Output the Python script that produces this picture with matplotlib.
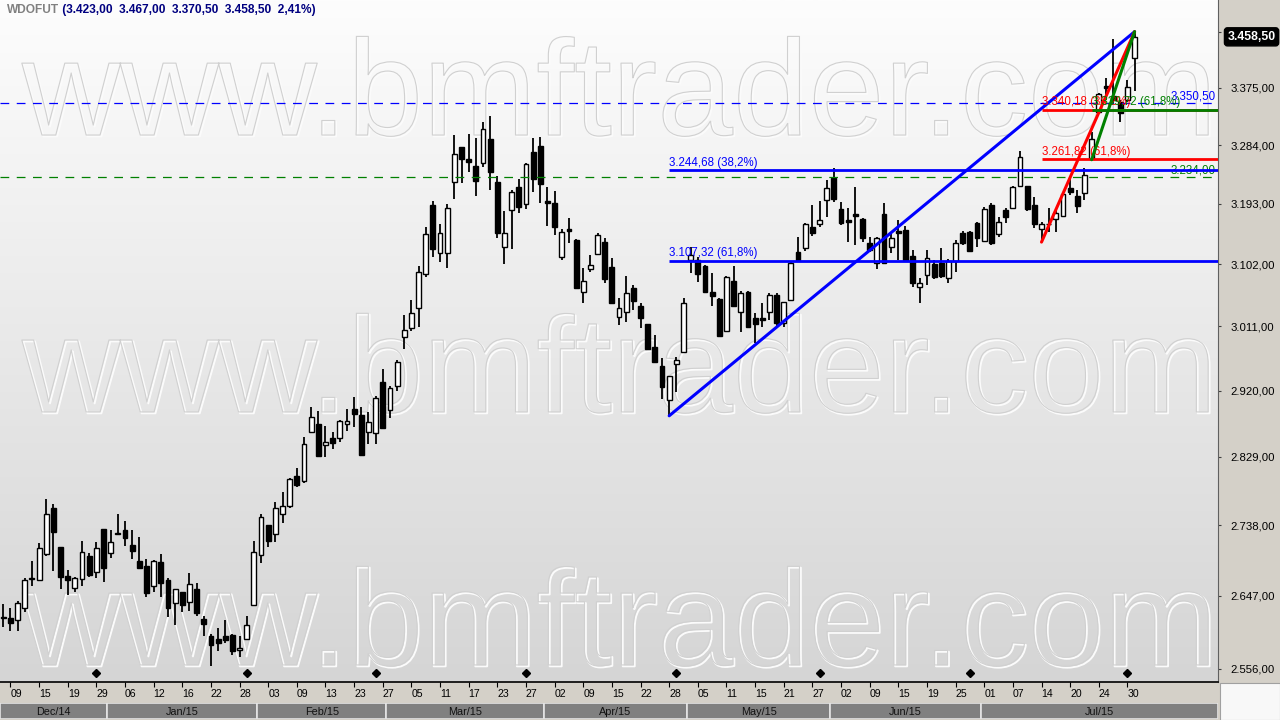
import numpy as np
import matplotlib
matplotlib.use("Agg")
import matplotlib.pyplot as plt
import matplotlib.transforms as mtransforms
from matplotlib import patheffects
from matplotlib.colors import LinearSegmentedColormap
from matplotlib.patches import Rectangle
from matplotlib.ticker import FixedLocator, NullLocator, FuncFormatter

plt.rcParams['font.family'] = ['Liberation Sans', 'DejaVu Sans']

# WDOFUT daily candles, Dec/14 .. Jul/15
opens = [2620, 2619, 2617, 2631, 2668, 2667, 2700, 2760, 2709, 2672,
         2657, 2668, 2698, 2677, 2733, 2702, 2727, 2731, 2712, 2692,
         2685, 2659, 2690, 2667, 2638, 2652, 2639, 2655, 2618, 2597,
         2593, 2596, 2598, 2579, 2593, 2635, 2699, 2738, 2726, 2752,
         2763, 2803, 2796, 2863, 2874, 2845, 2855, 2855, 2874, 2894,
         2886, 2863, 2862, 2932, 2893, 2927, 2996, 3009, 3038, 3088,
         3191, 3119, 3119, 3227, 3281, 3262, 3251, 3256, 3293, 3227,
         3127, 3184, 3219, 3193, 3273, 3283, 3198, 3194, 3112, 3154,
         3138, 3061, 3095, 3117, 3135, 3098, 3024, 3032, 3067, 3041,
         3014, 2981, 2955, 2907, 2957, 2974, 3108, 3108, 3100, 3061,
         3051, 3004, 3077, 3032, 3061, 3023, 3023, 3032, 3057, 3016,
         3050, 3120, 3126, 3157, 3162, 3199, 3233, 3185, 3168, 3177,
         3170, 3134, 3104, 3177, 3128, 3151, 3153, 3114, 3068, 3086,
         3103, 3104, 3082, 3107, 3149, 3150, 3164, 3136, 3191, 3147,
         3184, 3187, 3220, 3220, 3191, 3154, 3163, 3170, 3174, 3217,
         3205, 3209, 3262, 3337, 3378, 3362, 3353, 3356, 3423]
highs = [2637, 2631, 2640, 2669, 2692, 2715, 2772, 2766, 2709, 2680,
         2671, 2717, 2702, 2716, 2733, 2731, 2752, 2744, 2731, 2723,
         2694, 2693, 2701, 2669, 2655, 2652, 2676, 2663, 2622, 2599,
         2607, 2616, 2599, 2596, 2621, 2717, 2752, 2738, 2768, 2782,
         2800, 2814, 2856, 2897, 2891, 2871, 2863, 2879, 2894, 2911,
         2897, 2890, 2913, 2950, 2927, 2963, 3027, 3050, 3100, 3158,
         3197, 3162, 3193, 3300, 3281, 3301, 3295, 3320, 3330, 3236,
         3182, 3214, 3231, 3256, 3295, 3297, 3218, 3212, 3155, 3171,
         3139, 3097, 3116, 3149, 3141, 3111, 3053, 3085, 3072, 3045,
         3015, 2999, 2966, 2941, 2968, 3052, 3127, 3112, 3101, 3089,
         3052, 3084, 3100, 3062, 3062, 3030, 3045, 3059, 3059, 3047,
         3105, 3142, 3164, 3191, 3197, 3230, 3248, 3195, 3187, 3218,
         3171, 3142, 3142, 3194, 3149, 3168, 3160, 3123, 3082, 3123,
         3108, 3126, 3110, 3138, 3151, 3152, 3165, 3188, 3194, 3173,
         3187, 3220, 3274, 3221, 3204, 3165, 3187, 3187, 3210, 3233,
         3214, 3248, 3305, 3367, 3391, 3455, 3356, 3388, 3467]
lows = [2608, 2603, 2603, 2627, 2659, 2666, 2698, 2678, 2655, 2648,
        2652, 2659, 2671, 2669, 2664, 2695, 2725, 2711, 2694, 2682,
        2646, 2652, 2645, 2620, 2610, 2626, 2628, 2621, 2596, 2559,
        2578, 2588, 2573, 2571, 2592, 2634, 2689, 2710, 2716, 2741,
        2760, 2789, 2794, 2862, 2830, 2829, 2839, 2849, 2864, 2869,
        2831, 2846, 2846, 2867, 2882, 2920, 2979, 3005, 3010, 3083,
        3112, 3105, 3097, 3201, 3225, 3242, 3205, 3250, 3214, 3141,
        3102, 3124, 3179, 3185, 3211, 3194, 3160, 3145, 3108, 3133,
        3066, 3045, 3091, 3115, 3074, 3043, 3013, 3017, 3035, 3009,
        2977, 2959, 2908, 2885, 2918, 2973, 3089, 3076, 3060, 3041,
        2996, 3003, 3040, 3003, 3009, 2987, 3010, 3020, 3011, 3010,
        3048, 3105, 3121, 3144, 3157, 3173, 3196, 3161, 3135, 3130,
        3135, 3120, 3095, 3103, 3119, 3108, 3107, 3068, 3045, 3071,
        3080, 3082, 3074, 3091, 3130, 3120, 3127, 3135, 3130, 3143,
        3164, 3186, 3219, 3182, 3156, 3135, 3150, 3150, 3173, 3206,
        3179, 3199, 3261, 3335, 3356, 3351, 3321, 3353, 3370.5]
closes = [2619, 2613, 2638, 2667, 2669, 2708, 2753, 2729, 2671, 2667,
          2669, 2703, 2673, 2708, 2682, 2716, 2728, 2721, 2704, 2683,
          2651, 2691, 2663, 2632, 2655, 2635, 2662, 2625, 2612, 2585,
          2588, 2591, 2578, 2582, 2610, 2703, 2749, 2717, 2761, 2763,
          2799, 2791, 2846, 2883, 2830, 2849, 2848, 2878, 2878, 2887,
          2832, 2876, 2910, 2868, 2924, 2960, 3006, 3031, 3091, 3147,
          3124, 3149, 3187, 3270, 3262, 3258, 3228, 3309, 3242, 3149,
          3149, 3211, 3188, 3255, 3231, 3224, 3194, 3157, 3150, 3152,
          3067, 3077, 3101, 3146, 3080, 3045, 3038, 3060, 3048, 3023,
          2978, 2960, 2925, 2940, 2963, 3045, 3115, 3088, 3061, 3055,
          2997, 3083, 3041, 3060, 3010, 3014, 3021, 3056, 3016, 3047,
          3104, 3108, 3162, 3148, 3168, 3217, 3200, 3164, 3165, 3174,
          3141, 3123, 3141, 3104, 3141, 3148, 3108, 3074, 3074, 3111,
          3083, 3084, 3107, 3133, 3133, 3121, 3141, 3185, 3133, 3165,
          3173, 3219, 3266, 3185, 3162, 3162, 3162, 3179, 3208, 3211,
          3190, 3237, 3294, 3365, 3375, 3356, 3335, 3377, 3458.5]

day_labels = ['09', '15', '19', '29', '06', '12', '16', '22', '28', '03',
              '09', '13', '23', '27', '05', '11', '17', '23', '27', '02',
              '09', '15', '22', '28', '05', '11', '15', '21', '27', '02',
              '09', '15', '19', '25', '01', '07', '14', '20', '24', '30']
month_names = ['Dec/14', 'Jan/15', 'Feb/15', 'Mar/15', 'Apr/15', 'May/15', 'Jun/15', 'Jul/15']
month_sizes = [15, 21, 18, 22, 20, 20, 21, 22]
roll_days = [13, 34, 52, 73, 94, 114, 135, 157]
price_ticks = [2556, 2647, 2738, 2829, 2920, 3011, 3102, 3193, 3284, 3375, 3466]

# dashed alert lines
alert_levels = [3350.50, 3234.00]
alert_colors = ['#0000ff', '#008000']

# fibonacci retracements: start bar, swing low, levels
fib_colors = ['#0000ff', '#ff0000', '#008000']
fib_starts = [93, 145, 152]
fib_lows = [2885.0, 3135.0, 3261.0]
fib_end, fib_high = 158, 3467.0
fib_levels = [[3244.68, 3107.32], [3340.18, 3261.82], [3339.72]]
fib_ratios = [['38,2%', '61,8%'], ['38,2%', '61,8%'], ['61,8%']]
last_change = '2,41%'


def br(v):
    s = f"{v:,.2f}"
    return s.replace(",", "#").replace(".", ",").replace("#", ".")


n = len(closes)
x = np.arange(n)
o = np.array(opens, float)
c = np.array(closes, float)
x_left, x_right = -0.46, 169.65

W, H = 1280, 720
fig = plt.figure(figsize=(12.8, 7.2), dpi=100, facecolor='#d4d0c8')
rect = [0, 38 / H, 1218 / W, 682 / H]

# background gradient + watermark
bg = fig.add_axes(rect, zorder=0)
bg.imshow(np.linspace(0, 1, 256).reshape(-1, 1), extent=(0, 1, 0, 1), aspect='auto',
          origin='upper', cmap=LinearSegmentedColormap.from_list('bg', ['#fdfdfd', '#d5d5d5']))
for yb in [0.802, 0.396, 0.025]:
    bg.text(22 / 1218, yb, "www.bmftrader.com", fontsize=98, color=(1, 1, 1, 0),
            ha='left', va='baseline', clip_on=True,
            path_effects=[patheffects.Stroke(linewidth=1.4, foreground='#fbfbfb', offset=(1.0, -1.0)),
                          patheffects.Stroke(linewidth=0.8, foreground='#d0d0d0')])
bg.set_xlim(0, 1)
bg.set_ylim(0, 1)
bg.axis('off')

ax = fig.add_axes(rect, zorder=1)
ax.set_facecolor('none')
ax.set_yscale('log')

# candles
ax.vlines(x, lows, highs, color='black', lw=1.3, zorder=3)
ax.bar(x, np.maximum(np.abs(c - o), 0.8), width=0.68, bottom=np.minimum(o, c),
       color=np.where(c >= o, 'white', 'black'), edgecolor='black', linewidth=1.0, zorder=4)

blend = mtransforms.blended_transform_factory(ax.transAxes, ax.transData)
for lvl, col in zip(alert_levels, alert_colors):
    ax.axhline(lvl, color=col, lw=0.9, dashes=(7, 6), zorder=5)
    ax.annotate(br(lvl), xy=(1, lvl), xycoords=blend, xytext=(-2, 0.5), textcoords='offset points',
                ha='right', va='bottom', color=col, fontsize=8.3, zorder=5)

for col, i0, lo, lvls, rats in zip(fib_colors, fib_starts, fib_lows, fib_levels, fib_ratios):
    ax.plot([i0, fib_end], [lo, fib_high], color=col, lw=2.2, zorder=6, solid_capstyle='round')
    for lvl, r in zip(lvls, rats):
        ax.hlines(lvl, i0, x_right, color=col, lw=2.0, zorder=6)
        ax.annotate(f"{br(lvl)} ({r})", xy=(i0, lvl), xytext=(0, 1.2), textcoords='offset points',
                    ha='left', va='bottom', color=col, fontsize=8.3, zorder=6)

# rollover markers
ax.plot(roll_days, np.full(len(roll_days), 0.013), ls='none', marker='D', ms=3.6, color='black',
        transform=mtransforms.blended_transform_factory(ax.transData, ax.transAxes), zorder=7)

# axes
ax.set_xlim(x_left, x_right)
ax.set_ylim(2540, 3520)
ax.yaxis.tick_right()
ax.yaxis.set_major_locator(FixedLocator(price_ticks))
ax.yaxis.set_minor_locator(NullLocator())
ax.yaxis.set_major_formatter(FuncFormatter(lambda v, p: br(v)))
ax.tick_params(axis='y', direction='out', length=2.5, width=0.8, pad=6.5, labelsize=8.2,
               color='#404040', labelcolor='black')
ax.set_xticks(list(range(1, n, 4))[:len(day_labels)], day_labels)
for lbl in ax.get_xticklabels():
    lbl.set_ha('left')
ax.tick_params(axis='x', direction='out', length=3.6, width=0.8, pad=1.5, labelsize=7.6)
ax.spines['top'].set_visible(False)
ax.spines['left'].set_visible(False)
ax.spines['bottom'].set_linewidth(1.2)
ax.spines['right'].set_color('#606060')

# last price box
ax.text(1.0078, c[-1], br(c[-1]), transform=blend, ha='left', va='center', color='white',
        fontweight='bold', fontsize=8.8, clip_on=False, zorder=10,
        bbox=dict(boxstyle='round,pad=0.25,rounding_size=0.25', fc='black', ec='black'))

# title
t1 = ax.text(0.0055, 0.985, "WDOFUT", transform=ax.transAxes, ha='left', va='center',
             color='#808080', fontweight='bold', fontsize=8.6, zorder=10)
quote = f" ({br(opens[-1])}  {br(highs[-1])}  {br(lows[-1])}  {br(closes[-1])}  {last_change})"
ax.annotate(quote, xy=(1, 0), xycoords=t1, ha='left', va='bottom', color='#000080',
            fontweight='bold', fontsize=8.6, zorder=10)

# month bar
mb = fig.add_axes([0, 1 / H, 1218 / W, 16 / H])
mb.set_xlim(x_left, x_right)
mb.set_ylim(0, 1)
mb.axis('off')
start = -0.5
for k, (name, size) in enumerate(zip(month_names, month_sizes)):
    end = x_right if k == len(month_names) - 1 else start + size
    left = max(start, x_left)
    mb.add_patch(Rectangle((left, 0), end - left, 1, fc='#808080', ec='#e4e4e4', lw=1.2))
    mb.text((left + end) / 2, 0.45, name, ha='center', va='center', fontsize=7.8, color='#111111')
    start += size

fig.patches.append(Rectangle((1220 / W, 0), 60 / W, 37 / H, transform=fig.transFigure,
                             fc='#f8f8f8', ec='#a0a0a0', lw=0.8))

fig.savefig('out.png', dpi=100, facecolor=fig.get_facecolor())
